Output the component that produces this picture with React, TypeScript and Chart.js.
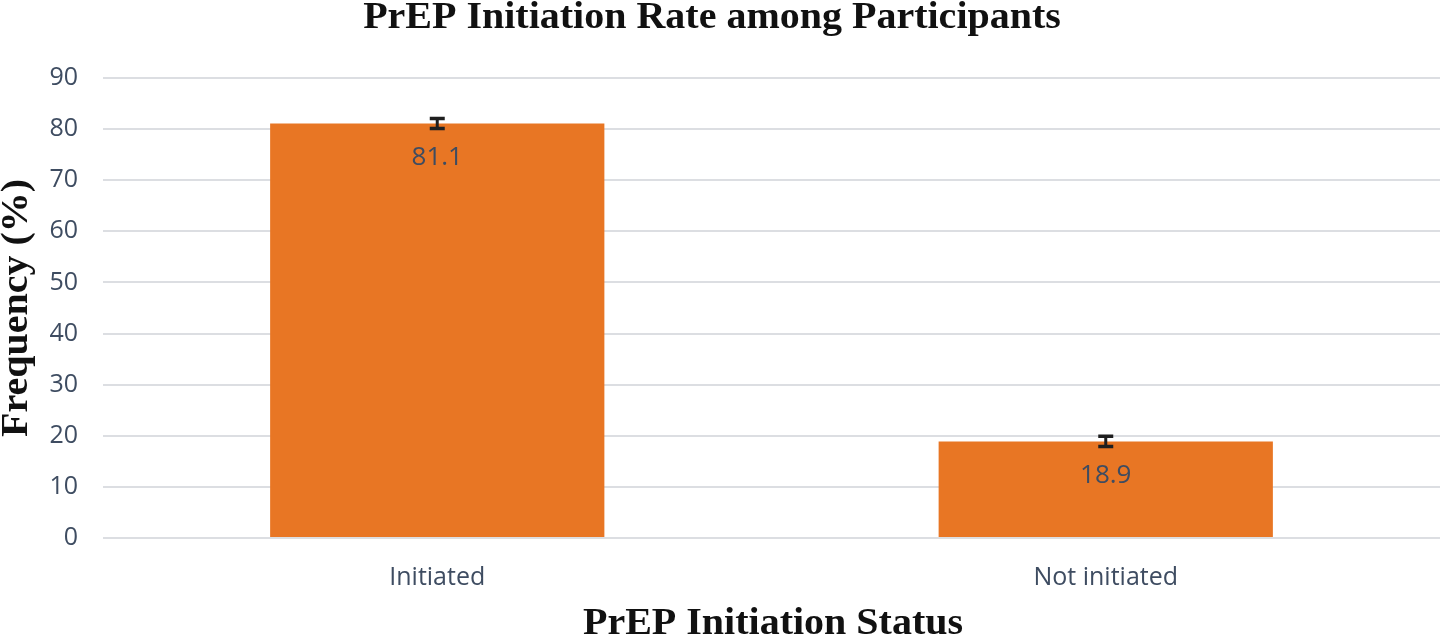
import React, { useEffect, useRef } from "react";
import { Chart, registerables } from "chart.js";

Chart.register(...registerables);

const categories = ["Initiated", "Not initiated"];
const values = [81.1, 18.9];
const errors = [1.0, 1.0];
const yTicks = [0, 10, 20, 30, 40, 50, 60, 70, 80, 90];
const chartTitle = "PrEP Initiation Rate among Participants";
const xTitle = "PrEP Initiation Status";
const yTitle = "Frequency (%)";

const TEXT = "#3E4C61";
const SANS = "'Open Sans', sans-serif";
const SERIF = "'Liberation Serif', 'Times New Roman', serif";

function drawSerif(ctx: any, text: string, x: number, y: number, rot: number) {
  ctx.save();
  ctx.translate(x, y);
  if (rot) ctx.rotate(rot);
  ctx.scale(1, 0.95);
  ctx.fillStyle = "#111";
  ctx.font = `bold 40px ${SERIF}`;
  ctx.textAlign = "center";
  ctx.textBaseline = "alphabetic";
  ctx.fillText(text, 0, 0);
  ctx.restore();
}

const overlay = {
  id: "overlay",
  afterDatasetsDraw(chart: any) {
    const ctx = chart.ctx;
    const meta = chart.getDatasetMeta(0);
    const y = chart.scales.y;
    ctx.save();
    meta.data.forEach((bar: any, i: number) => {
      const v = values[i];
      const e = errors[i];
      const x = bar.x;
      const yt = y.getPixelForValue(v + e);
      const yb = y.getPixelForValue(v - e);
      ctx.strokeStyle = "#1f1f1f";
      ctx.lineWidth = 3;
      ctx.beginPath();
      ctx.moveTo(x, yt);
      ctx.lineTo(x, yb);
      ctx.stroke();
      ctx.lineWidth = 3.5;
      ctx.beginPath();
      ctx.moveTo(x - 7.5, yt);
      ctx.lineTo(x + 7.5, yt);
      ctx.moveTo(x - 7.5, yb);
      ctx.lineTo(x + 7.5, yb);
      ctx.stroke();
      ctx.fillStyle = TEXT;
      ctx.font = `26px ${SANS}`;
      ctx.textAlign = "center";
      ctx.textBaseline = "middle";
      ctx.fillText(v.toFixed(1), x, y.getPixelForValue(v) + 34);
    });
    ctx.restore();
    drawSerif(ctx, chartTitle, 712, 28, 0);
    drawSerif(ctx, xTitle, 773, 634, 0);
    drawSerif(ctx, yTitle, 27, 308, -Math.PI / 2);
  },
};

export default function App() {
  const ref = useRef<HTMLCanvasElement>(null);
  useEffect(() => {
    if (!ref.current) return;
    const chart = new Chart(ref.current, {
      type: "bar",
      data: {
        labels: categories,
        datasets: [
          {
            data: values,
            backgroundColor: "#E87624",
            categoryPercentage: 1,
            barPercentage: 0.5,
          },
        ],
      },
      options: {
        responsive: false,
        animation: false,
        devicePixelRatio: 1,
        layout: { padding: { top: 78, right: 2, bottom: 0, left: 0 } },
        plugins: {
          legend: { display: false },
          tooltip: { enabled: false },
          title: { display: false },
        },
        scales: {
          x: {
            grid: { display: false, drawTicks: false },
            border: { display: false },
            ticks: { color: TEXT, font: { family: SANS, size: 25 }, padding: 25 },
            afterFit(scale: any) {
              scale.height = 104;
            },
          },
          y: {
            min: 0,
            max: 90,
            afterBuildTicks(scale: any) {
              scale.ticks = yTicks.map((v) => ({ value: v }));
            },
            grid: { color: "#DCDEE2", lineWidth: 2, drawTicks: false },
            border: { display: false },
            ticks: { color: TEXT, font: { family: SANS, size: 25 }, padding: 25 },
            afterFit(scale: any) {
              scale.width = 103;
            },
          },
        },
      },
      plugins: [overlay],
    });
    return () => chart.destroy();
  }, []);
  return (
    <div style={{ position: "fixed", left: 0, top: 0, width: 1442, height: 642, background: "#fff" }}>
      <canvas ref={ref} width={1442} height={642} style={{ width: 1442, height: 642 }} />
    </div>
  );
}
